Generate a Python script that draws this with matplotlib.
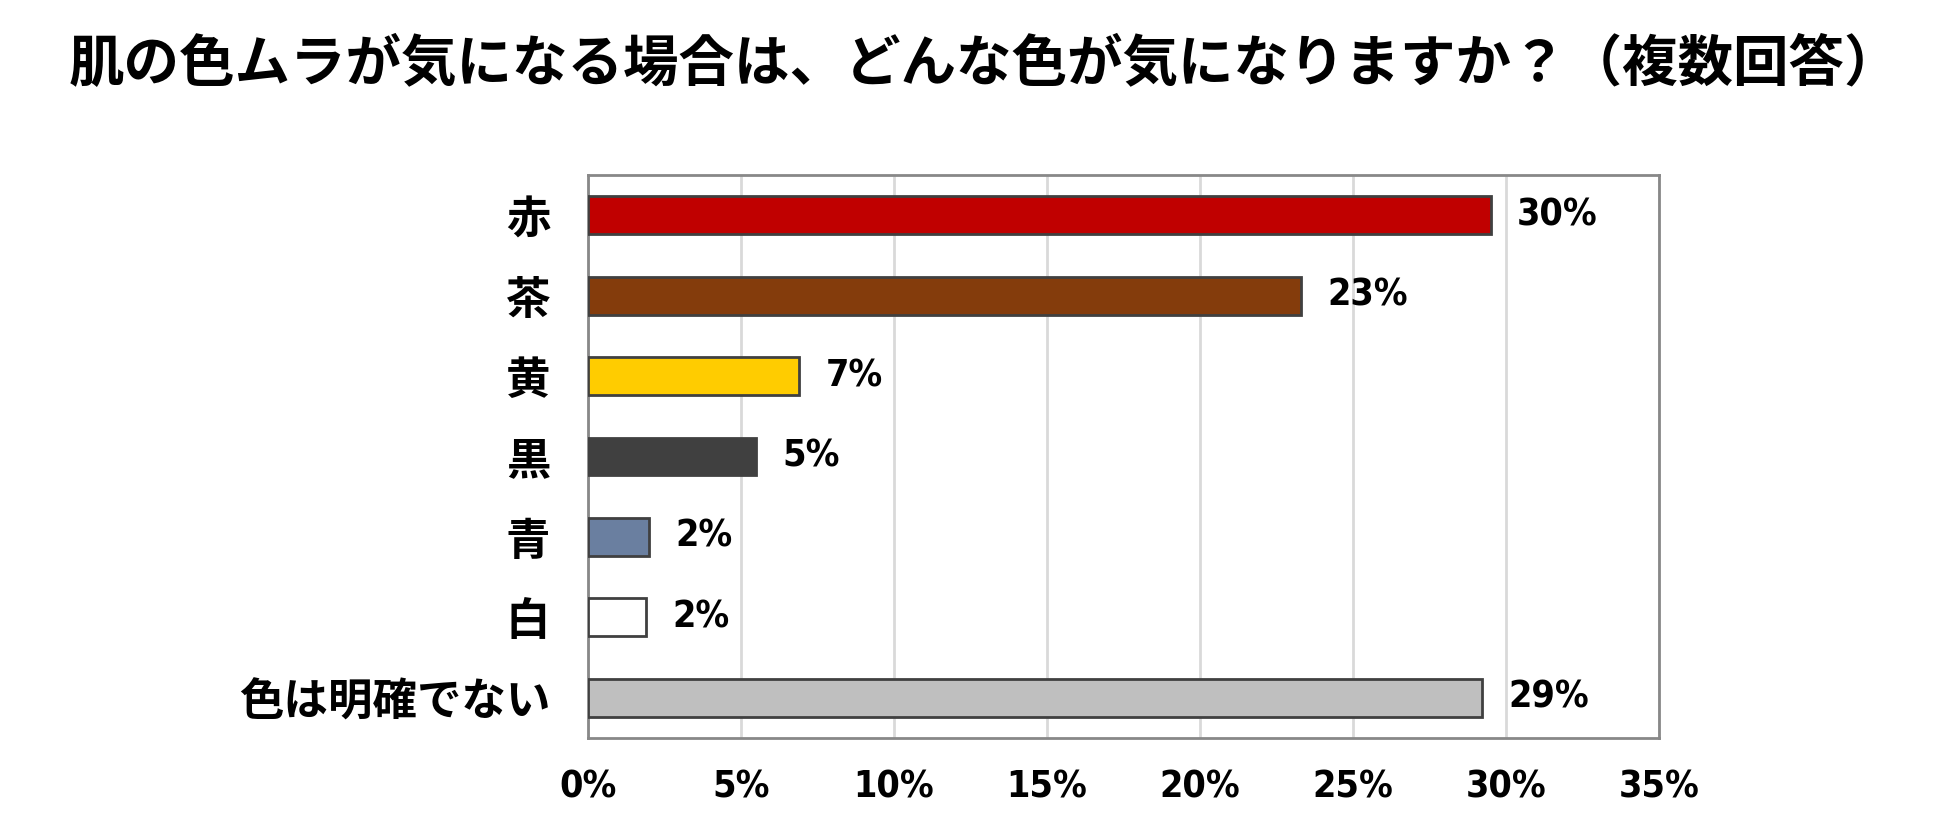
import matplotlib
matplotlib.use("Agg")
import matplotlib.pyplot as plt
from matplotlib import font_manager

# データ
categories = ["赤", "茶", "黄", "黒", "青", "白", "色は明確でない"]
values = [29.5, 23.3, 6.9, 5.5, 2.0, 1.9, 29.2]
value_labels = ["30%", "23%", "7%", "5%", "2%", "2%", "29%"]
colors = ["#C00000", "#843C0C", "#FFCC00", "#404040", "#6A7FA0", "#FFFFFF", "#BFBFBF"]
xticks = [0, 5, 10, 15, 20, 25, 30, 35]
xtick_labels = ["0%", "5%", "10%", "15%", "20%", "25%", "30%", "35%"]
title = "肌の色ムラが気になる場合は、どんな色が気になりますか？（複数回答）"

jp_font = ["Noto Sans CJK JP", "DejaVu Sans"]

# 細めの数字フォントがあれば使う
num_prop = dict(family=["Liberation Sans"], stretch="normal", size=28)
for fam in ["Liberation Sans Narrow", "DejaVu Sans"]:
    try:
        p = font_manager.findfont(font_manager.FontProperties(
            family=fam, weight="bold", stretch="condensed"), fallback_to_default=False)
    except Exception:
        continue
    if "Narrow" in p or "Condensed" in p:
        num_prop = dict(family=[fam], stretch="condensed", size=30 if "Narrow" in p else 27)
        break

fig = plt.figure(figsize=(19.5, 8.39), dpi=100)
ax = fig.add_axes([0.3015, 0.1204, 0.5493, 0.671])

y = list(range(len(categories)))
bars = ax.barh(y, values, height=0.47, color=colors, edgecolor="#404040", linewidth=2, zorder=3)
ax.set_ylim(len(categories) - 0.5, -0.5)
ax.set_xlim(0, 35)

ax.set_xticks(xticks)
ax.set_xticklabels(xtick_labels, fontfamily=num_prop["family"], fontstretch=num_prop["stretch"],
                   fontsize=num_prop["size"], fontweight="bold")
ax.set_yticks(y)
ax.set_yticklabels(categories, fontfamily=jp_font, fontsize=32, fontweight="bold")
ax.tick_params(axis="x", length=0, pad=23)
ax.tick_params(axis="y", length=0, pad=27)

ax.grid(axis="x", color="#D9D9D9", linewidth=2, zorder=0)
for s in ax.spines.values():
    s.set_color("#888888")
    s.set_linewidth(2)

ax.bar_label(bars, labels=value_labels, padding=19, fontfamily=num_prop["family"],
             fontstretch=num_prop["stretch"], fontsize=num_prop["size"], fontweight="bold")

fig.text(0.505, 0.922, title, ha="center", va="center", fontfamily=jp_font,
         fontsize=40, fontweight="bold")

fig.savefig("out.png", dpi=100)
